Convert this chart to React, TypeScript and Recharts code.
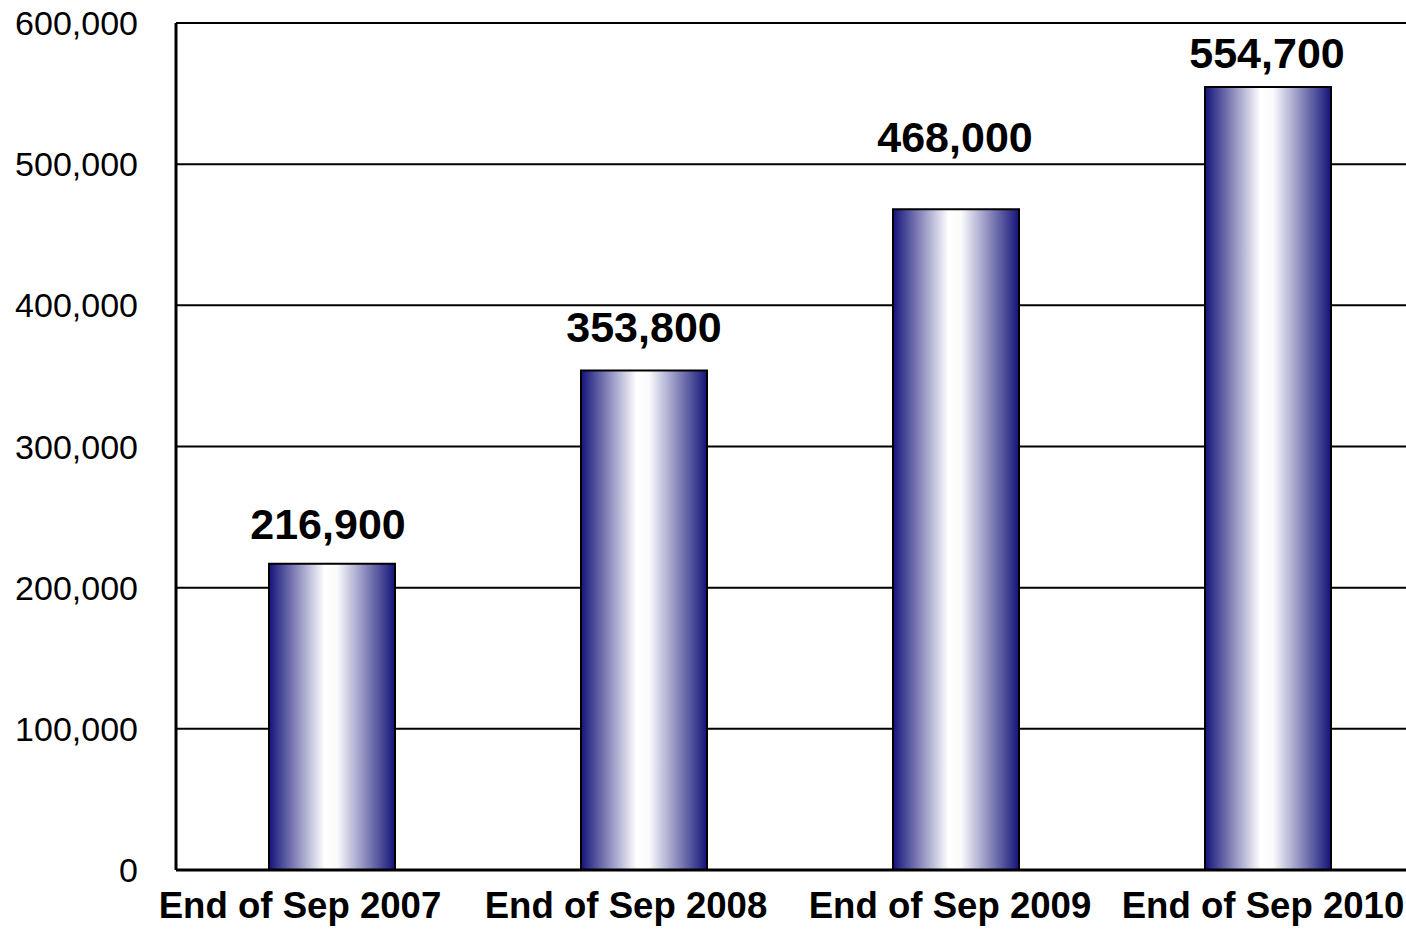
import { BarChart, Bar, XAxis, YAxis, CartesianGrid, LabelList } from "recharts";

const periods = ["End of Sep 2007", "End of Sep 2008", "End of Sep 2009", "End of Sep 2010"];
const totals = [216900, 353800, 468000, 554700];
const yTicks = [0, 100000, 200000, 300000, 400000, 500000, 600000];

const data = periods.map((period, i) => ({ period, total: totals[i] }));

const fmt = (v: number) => v.toLocaleString("en-US");

// the original squeezes the category labels leftwards so the last one fits
const labelShift = [-32, -18, -6, -5];
// value labels were hand-placed in the original, gap above each bar differs
const valueGap = [25, 29, 57, 19];
const valueShift = [-4, 0, -1, -1];

function PeriodTick(props: any) {
  const { x, y, payload, index } = props;
  return (
    <text
      x={x + (labelShift[index] ?? 0)}
      y={y}
      dy="0.71em"
      textAnchor="middle"
      fill="#000"
      fontSize={36.6}
      fontWeight="bold"
    >
      {payload.value}
    </text>
  );
}

function ValueLabel(props: any) {
  const { x, y, width, value, index } = props;
  return (
    <text
      x={x + width / 2 + (valueShift[index] ?? 0)}
      y={y - (valueGap[index] ?? 20)}
      textAnchor="middle"
      fill="#000"
      fontSize={43}
      fontWeight="bold"
    >
      {fmt(Number(value))}
    </text>
  );
}

export default function App() {
  return (
    <div style={{ position: "absolute", left: 0, top: 0, width: 1406, height: 929, overflow: "hidden", background: "#fff" }}>
      <BarChart
        width={1424}
        height={929}
        data={data}
        margin={{ top: 23, right: 0, bottom: 0, left: 0 }}
        barCategoryGap={0}
        style={{ fontFamily: "'Liberation Sans', Arial, sans-serif" }}
      >
        <defs>
          <linearGradient id="barShade" x1="0" y1="0" x2="1" y2="0">
            <stop offset="0%" stopColor="#14147a" />
            <stop offset="44%" stopColor="#ffffff" />
            <stop offset="54%" stopColor="#fbfbfd" />
            <stop offset="100%" stopColor="#14147a" />
          </linearGradient>
        </defs>
        <CartesianGrid vertical={false} stroke="#000" strokeWidth={2} />
        <XAxis
          dataKey="period"
          height={59}
          tickLine={false}
          tickSize={0}
          tickMargin={22}
          axisLine={{ stroke: "#000", strokeWidth: 3 }}
          tick={<PeriodTick />}
          interval={0}
        />
        <YAxis
          width={176}
          domain={[0, 600000]}
          ticks={yTicks}
          tickFormatter={fmt}
          tickLine={false}
          tickSize={0}
          tickMargin={38}
          axisLine={{ stroke: "#000", strokeWidth: 3 }}
          tick={{ fill: "#000", fontSize: 34 }}
        />
        <Bar dataKey="total" barSize={126} fill="url(#barShade)" stroke="#000" strokeWidth={2} isAnimationActive={false}>
          <LabelList dataKey="total" content={<ValueLabel />} />
        </Bar>
      </BarChart>
    </div>
  );
}
